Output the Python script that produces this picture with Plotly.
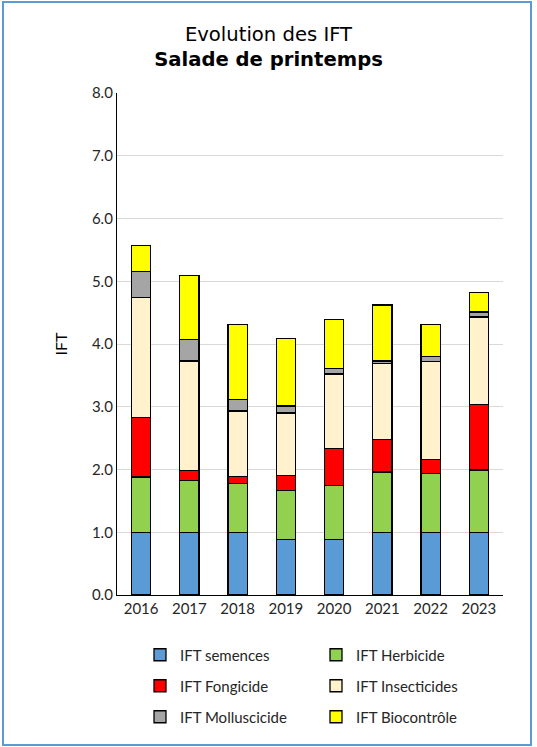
import plotly.graph_objects as go

years = ["2016", "2017", "2018", "2019", "2020", "2021", "2022", "2023"]

ift_semences = [1.00, 1.00, 1.00, 0.89, 0.89, 1.00, 1.00, 1.00]
ift_herbicide = [0.88, 0.83, 0.78, 0.78, 0.86, 0.96, 0.94, 0.99]
ift_fongicide = [0.95, 0.15, 0.11, 0.24, 0.59, 0.52, 0.22, 1.05]
ift_insecticides = [1.91, 1.75, 1.04, 0.99, 1.18, 1.21, 1.56, 1.39]
ift_molluscicide = [0.42, 0.34, 0.19, 0.11, 0.09, 0.04, 0.08, 0.08]
ift_biocontrole = [0.41, 1.02, 1.19, 1.08, 0.78, 0.89, 0.51, 0.31]

series = [
    ("IFT semences", ift_semences, "#5B9BD5", "legend"),
    ("IFT Herbicide", ift_herbicide, "#92D050", "legend"),
    ("IFT Fongicide", ift_fongicide, "#FF0000", "legend2"),
    ("IFT Insecticides", ift_insecticides, "#FFF2CC", "legend2"),
    ("IFT Molluscicide", ift_molluscicide, "#A5A5A5", "legend3"),
    ("IFT Biocontrôle", ift_biocontrole, "#FFFF00", "legend3"),
]

FONT = "Lato"

fig = go.Figure()
for name, vals, color, leg in series:
    fig.add_trace(
        go.Bar(
            x=years,
            y=vals,
            name=name,
            marker=dict(color=color, line=dict(color="black", width=1.3)),
            legend=leg,
        )
    )

# plot area in pixels: x 117..503, y 93..595
W, H = 537, 747
L, R, T, B = 117, 34, 93, 152
pw, ph = W - L - R, H - T - B


def px_x(px):
    return (px - L) / pw


def px_y(py):
    return (H - B - py) / ph


legend_style = dict(
    orientation="h",
    font=dict(family=FONT, size=15, color="#262626"),
    entrywidth=131,
    entrywidthmode="pixels",
    itemwidth=30,
    bgcolor="rgba(0,0,0,0)",
    xanchor="left",
    yanchor="middle",
    x=px_x(140),
    traceorder="normal",
)

fig.update_layout(
    width=W,
    height=H,
    margin=dict(l=L, r=R, t=T, b=B),
    paper_bgcolor="white",
    plot_bgcolor="white",
    barmode="stack",
    bargap=0.6,
    title=dict(
        text="Evolution des IFT<br><b>Salade de printemps</b>",
        x=0.5,
        xanchor="center",
        y=1 - 41 / H,
        yanchor="top",
        font=dict(family="DejaVu Sans", size=19.6, color="black"),
    ),
    xaxis=dict(
        showline=True,
        linecolor="black",
        linewidth=1.3,
        ticks="",
        tickfont=dict(family=FONT, size=15, color="#262626"),
        showgrid=False,
    ),
    yaxis=dict(
        range=[0, 8],
        dtick=1,
        tickformat=".1f",
        showline=True,
        linecolor="black",
        linewidth=1.3,
        ticks="",
        showgrid=True,
        gridcolor="#D9D9D9",
        gridwidth=1,
        zeroline=False,
        tickfont=dict(family=FONT, size=15, color="#262626"),
        title=dict(text="IFT", font=dict(family=FONT, size=16, color="black"), standoff=20),
    ),
    legend=dict(legend_style, y=px_y(655)),
    legend2=dict(legend_style, y=px_y(686)),
    legend3=dict(legend_style, y=px_y(717)),
    shapes=[
        dict(
            type="rect",
            xref="paper",
            yref="paper",
            x0=px_x(3),
            x1=px_x(531),
            y0=px_y(745),
            y1=px_y(2),
            line=dict(color="#5B9BD5", width=2),
            fillcolor="rgba(0,0,0,0)",
            layer="below",
        )
    ],
)

fig.write_html(
    "out.html",
    config={"displayModeBar": False},
    post_script="document.body.style.margin='0';",
)
